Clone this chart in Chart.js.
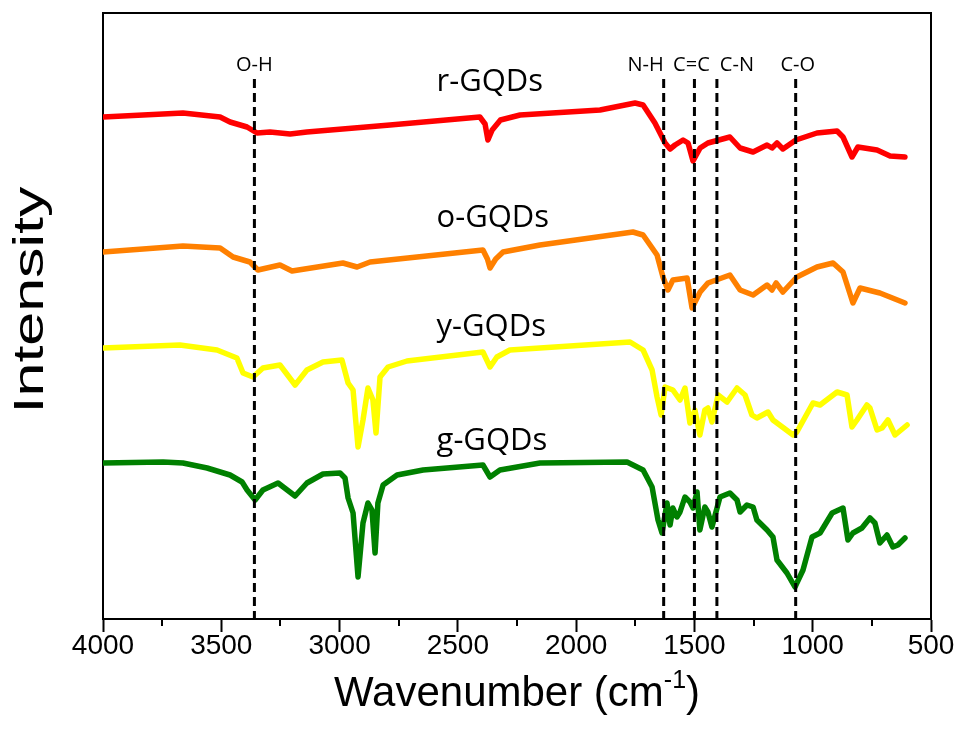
<!DOCTYPE html>
<html>
<head>
<meta charset="utf-8">
<title>FTIR spectra of GQDs</title>
<script src="https://cdn.jsdelivr.net/npm/chart.js@4.4.1/dist/chart.umd.min.js"></script>
<style>
    html, body { margin: 0; padding: 0; background: #fff; }
    #wrap { position: relative; width: 957px; height: 742px; }
</style>
</head>
<body>
<div id="wrap"><canvas id="ftir"></canvas></div>
<script>
// ---- data (wavenumber in cm-1, intensity in arbitrary units) ----
const rWave = [4000,3662,3505,3463,3391,3349,3294,3209,3138,2787,2407,2385,2373,2355,2320,2237,1899,1751,1717,1667,1624,1603,1582,1548,1527,1506,1476,1443,1350,1307,1252,1193,1172,1151,1126,1071,982,897,872,834,809,728,673,610];
const rInt  = [502,506,502,497,492,486,487,485,487,494,502,495,479,489,499,504,509,516,514,496,476,470,474,479,476,458,471,476,482,471,467,474,471,476,470,479,486,488,482,462,472,469,463,462];

const oWave = [4000,3662,3505,3450,3379,3345,3252,3201,2986,2926,2871,2394,2375,2364,2340,2309,2153,1760,1717,1658,1633,1612,1591,1531,1510,1476,1443,1350,1307,1252,1193,1172,1155,1126,1067,982,914,872,830,800,716,610];
const oInt  = [367,373,371,362,357,349,354,348,356,352,357,369,360,351,360,367,374,387,384,364,342,329,339,341,311,327,336,344,329,324,334,329,336,327,342,352,356,347,316,331,326,316];

const yWave = [4000,3675,3518,3434,3408,3366,3324,3252,3188,3138,3070,2990,2964,2943,2922,2901,2880,2859,2846,2829,2795,2715,2394,2364,2335,2280,1772,1717,1679,1658,1641,1624,1591,1561,1540,1519,1498,1477,1456,1443,1426,1400,1362,1320,1286,1257,1236,1189,1168,1083,1067,999,969,897,855,834,813,771,758,728,707,682,652,601];
const yInt  = [271,274,269,261,246,242,251,254,234,249,257,259,236,229,172,199,231,219,186,242,252,258,267,252,262,269,277,269,249,222,204,232,229,219,231,196,209,184,209,211,197,224,217,231,224,204,201,207,199,184,187,216,214,227,224,192,199,214,211,189,191,199,184,194];

const gWave = [4000,3746,3662,3560,3463,3412,3391,3357,3324,3260,3188,3138,3070,2998,2977,2964,2943,2922,2901,2880,2863,2850,2838,2816,2757,2647,2394,2364,2322,2153,1785,1717,1679,1654,1637,1616,1603,1591,1574,1561,1540,1519,1506,1489,1477,1456,1443,1426,1392,1350,1320,1307,1278,1252,1236,1193,1168,1151,1109,1075,1041,1003,969,918,872,851,830,792,758,737,716,686,661,640,610];
const gInt  = [156,157,156,151,144,137,129,119,129,136,123,136,145,146,141,121,106,42,96,116,109,66,116,134,144,149,154,142,149,156,157,149,132,99,86,116,94,111,102,107,122,117,111,127,89,112,107,92,122,126,119,107,114,112,99,89,82,59,46,32,49,82,86,106,111,79,86,91,101,96,76,84,72,74,81];

// sample names and where their labels sit (left edge wavenumber, intensity)
const sampleNames = ['r-GQDs', 'o-GQDs', 'y-GQDs', 'g-GQDs'];
const sampleColors = ['#ff0000', '#ff8000', '#ffff00', '#008000'];
const sampleLabelWave = 2590;
const sampleLabelInt = [537, 401, 292, 178];

// bond assignment lines
const bondNames = ['O-H', 'N-H', 'C=C', 'C-N', 'C-O'];
const bondWave = [3360, 1630, 1500, 1405, 1072];
const bondTop = 540;

// axis ticks
const xTicksMajor = [500, 1000, 1500, 2000, 2500, 3000, 3500, 4000];
const xTicksMinor = [750, 1250, 1750, 2250, 2750, 3250, 3750];

const toPoints = (xs, ys) => xs.map((x, i) => ({ x: x, y: ys[i] }));

// bond lines first so they are drawn on top of the spectra
const bondSets = bondWave.map(w => ({
    data: [{ x: w, y: bondTop }, { x: w, y: 0 }],
    borderColor: '#000',
    borderWidth: 3,
    borderDash: [9, 5],
    pointRadius: 0
}));

const spectra = [[rWave, rInt], [oWave, oInt], [yWave, yInt], [gWave, gInt]].map((s, i) => ({
    label: sampleNames[i],
    data: toPoints(s[0], s[1]),
    borderColor: sampleColors[i],
    borderWidth: 5.5,
    borderJoinStyle: 'round',
    borderCapStyle: 'round',
    pointRadius: 0,
    tension: 0
}));

// labels, frame, minor ticks and axis titles drawn on top
const decorations = {
    id: 'decorations',
    afterDraw(chart) {
        const ctx = chart.ctx;
        const xs = chart.scales.x, ys = chart.scales.y;
        const area = chart.chartArea;
        ctx.save();

        // top and right frame lines
        ctx.strokeStyle = '#000';
        ctx.lineWidth = 2;
        ctx.beginPath();
        ctx.moveTo(area.left, area.top);
        ctx.lineTo(area.right, area.top);
        ctx.lineTo(area.right, area.bottom);
        ctx.stroke();

        // minor ticks on the bottom axis
        xTicksMinor.forEach(v => {
            const px = Math.round(xs.getPixelForValue(v));
            ctx.beginPath();
            ctx.moveTo(px, area.bottom);
            ctx.lineTo(px, area.bottom + 7);
            ctx.stroke();
        });

        // bond labels above the dashed lines
        const bondShift = [0, -18, -3, 20, 2];
        ctx.fillStyle = '#000';
        ctx.font = '20px "Open Sans"';
        ctx.textAlign = 'center';
        ctx.textBaseline = 'middle';
        bondNames.forEach((n, i) => {
            ctx.fillText(n, xs.getPixelForValue(bondWave[i]) + bondShift[i], ys.getPixelForValue(bondTop) - 14);
        });

        // sample labels
        ctx.font = '31px "Open Sans"';
        ctx.textAlign = 'left';
        sampleNames.forEach((n, i) => {
            ctx.fillText(n, xs.getPixelForValue(sampleLabelWave), ys.getPixelForValue(sampleLabelInt[i]));
        });

        // y axis title, stretched along its length like the original
        ctx.save();
        ctx.translate(43, 300);
        ctx.rotate(-Math.PI / 2);
        ctx.scale(1.45, 1);
        ctx.font = '42px "Liberation Sans"';
        ctx.textAlign = 'center';
        ctx.textBaseline = 'alphabetic';
        ctx.fillText('Intensity', 0, 0);
        ctx.restore();

        // x axis title: Wavenumber (cm^-1)
        const main = 'Wavenumber (cm', sup = '-1', tail = ')';
        const big = '42px "Liberation Sans"', small = '25px "Liberation Sans"';
        ctx.font = big;
        const wMain = ctx.measureText(main).width, wTail = ctx.measureText(tail).width;
        ctx.font = small;
        const wSup = ctx.measureText(sup).width;
        const x0 = (area.left + area.right) / 2 - (wMain + wSup + wTail) / 2;
        const base = 706;
        ctx.textAlign = 'left';
        ctx.textBaseline = 'alphabetic';
        ctx.font = big;
        ctx.fillText(main, x0, base);
        ctx.font = small;
        ctx.fillText(sup, x0 + wMain, base - 18);
        ctx.font = big;
        ctx.fillText(tail, x0 + wMain + wSup, base);

        ctx.restore();
    }
};

new Chart(document.getElementById('ftir'), {
    type: 'line',
    data: { datasets: bondSets.concat(spectra) },
    options: {
        responsive: true,
        maintainAspectRatio: false,
        animation: false,
        layout: { padding: { left: 0, top: 13, right: 26, bottom: 0 } },
        plugins: {
            legend: { display: false },
            tooltip: { enabled: false }
        },
        scales: {
            x: {
                type: 'linear',
                reverse: true,
                min: 500,
                max: 4000,
                afterBuildTicks: scale => { scale.ticks = xTicksMajor.map(v => ({ value: v })); },
                afterFit: scale => { scale.height = 123; },
                border: { display: true, color: '#000', width: 2 },
                grid: {
                    drawOnChartArea: false,
                    drawTicks: true,
                    tickLength: 13,
                    tickWidth: 2,
                    tickColor: '#000'
                },
                ticks: {
                    color: '#000',
                    padding: -3,
                    maxRotation: 0,
                    autoSkip: false,
                    font: { family: 'Liberation Sans', size: 28 },
                    callback: v => String(v)
                }
            },
            y: {
                type: 'linear',
                min: 0,
                max: 606,
                afterFit: scale => { scale.width = 103; },
                border: { display: true, color: '#000', width: 2 },
                grid: { display: false },
                ticks: { display: false }
            }
        }
    },
    plugins: [decorations]
});
</script>
</body>
</html>
